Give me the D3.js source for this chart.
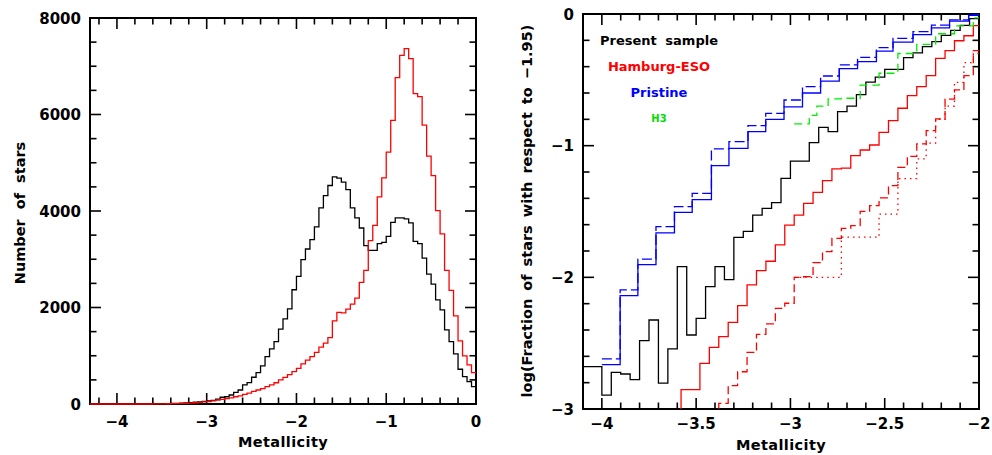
<!DOCTYPE html>
<html>
<head>
<meta charset="utf-8">
<script src="https://cdn.jsdelivr.net/npm/d3@7"></script>
<style>
	body { margin: 0; background: #fff; }
	svg { display: block; }
	text { font-family: "DejaVu Sans", sans-serif; font-weight: bold; fill: #000; }
</style>
</head>
<body>
<div id="chart"></div>
<script>
// ---- left panel: metallicity distributions, bins of 0.05 starting at -4.3
const histLo = -4.3;
const histStep = 0.05;
const presentCounts = [
	0, 0, 0, 0, 0, 0, 0, 0, 0, 0, 0, 0, 0, 0,
	3, 5, 6, 8, 10, 14, 18, 24, 30, 38, 46, 55,
	65, 75, 100, 140, 150, 187, 242, 290, 395, 443,
	554, 651, 789, 983, 1142, 1294, 1551, 1765, 1973, 2368,
	2644, 2991, 3212, 3406, 3670, 4064, 4320, 4528, 4708, 4680,
	4597, 4444, 4064, 3856, 3648, 3281, 3184, 3184, 3323, 3350,
	3475, 3766, 3856, 3856, 3835, 3752, 3371, 3323, 3025, 2693,
	2485, 2160, 1952, 1537, 1294, 1038, 720, 568, 464, 360
];
const comparisonCounts = [
	0, 0, 0, 0, 0, 0, 0, 0, 0, 0, 0, 0, 0, 0,
	2, 3, 4, 5, 7, 9, 12, 16, 20, 26, 33, 42,
	50, 65, 80, 95, 110, 125, 150, 170, 200, 225,
	260, 290, 320, 360, 395, 440, 500, 550, 610, 670,
	740, 830, 910, 980, 1070, 1180, 1260, 1377, 1724, 1897,
	1890, 1966, 2070, 2195, 2520, 2769, 3385, 3704, 4293, 4687,
	5220, 5877, 6764, 7227, 7366, 7159, 6432, 6370, 5780, 5136,
	4735, 4008, 3524, 2769, 2353, 1828, 1308, 997, 810, 651
];
const leftXTicks = [-4, -3, -2, -1, 0];
const leftYTicks = [0, 2000, 4000, 6000, 8000];

// ---- right panel: log cumulative fraction relative to [Fe/H] = -1.95
const presentLo = -4.1;
const presentFrac = [
	-2.678, -2.678, -2.894, -2.722, -2.734, -2.777, -2.481, -2.324, -2.803, -2.544,
	-1.919, -2.438, -2.311, -2.071, -1.919, -2.018, -1.696, -1.651, -1.527, -1.476,
	-1.433, -1.248, -1.118, -1.118, -0.977, -0.861, -0.894, -0.742, -0.700, -0.612,
	-0.518, -0.479, -0.420, -0.420, -0.332, -0.296, -0.248, -0.210, -0.162, -0.124,
	-0.086, -0.035
];
const hesLo = -3.63;
const hesFrac = [
	-3.2, -2.853, -2.853, -2.653, -2.532, -2.451, -2.342, -2.215, -2.058, -1.949,
	-1.878, -1.754, -1.603, -1.527, -1.438, -1.354, -1.266, -1.177, -1.170, -1.076,
	-1.033, -0.995, -0.899, -0.810, -0.716, -0.620, -0.552, -0.468, -0.337, -0.278,
	-0.203, -0.165, -0.089
];
const hesDashLo = -3.43;
const hesDashFrac = [
	-3.2, -2.957, -2.823, -2.717, -2.570, -2.433, -2.354, -2.235, -2.197, -2.000,
	-1.995, -1.889, -1.805, -1.704, -1.628, -1.608, -1.499, -1.456, -1.397, -1.304,
	-1.165, -1.081, -0.987, -0.886, -0.797, -0.646, -0.577, -0.468, -0.278
];
const hesDotEdges = [-2.98, -2.73, -2.53, -2.43, -2.33, -2.28, -2.23, -2.18, -2.13, -2.08, -2.03, -1.98];
const hesDotFrac = [-2.0, -1.695, -1.52, -1.25, -1.10, -0.98, -0.80, -0.70, -0.52, -0.37, -0.30];
const pristineEdges = [
	-4.0, -3.903, -3.809, -3.713, -3.615, -3.521, -3.419, -3.326, -3.225, -3.131,
	-3.034, -2.936, -2.840, -2.741, -2.644, -2.544, -2.456, -2.350, -2.252, -2.156,
	-2.055, -2.0
];
const pristineFrac = [
	-2.663, -2.139, -1.904, -1.663, -1.506, -1.410, -1.152, -1.020, -0.894, -0.800,
	-0.705, -0.600, -0.510, -0.415, -0.362, -0.282, -0.213, -0.156, -0.105, -0.054,
	-0.010
];
const pristineAltFrac = [
	-2.620, -2.096, -1.861, -1.615, -1.463, -1.362, -1.025, -0.970, -0.848, -0.754,
	-0.653, -0.552, -0.471, -0.387, -0.329, -0.256, -0.185, -0.134, -0.084, -0.045,
	-0.005
];
const h3Edges = [-2.98, -2.90, -2.86, -2.80, -2.73, -2.63, -2.53, -2.43, -2.33, -2.23, -2.13, -2.03, -2.0];
const h3Frac = [-0.835, -0.770, -0.700, -0.645, -0.640, -0.540, -0.450, -0.300, -0.230, -0.150, -0.090, -0.030];
const rightXTicks = [-4, -3.5, -3, -2.5, -2];
const rightYTicks = [0, -1, -2, -3];

const legend = [
	{label: 'Present sample', color: '#000000', size: 13, y: 45},
	{label: 'Hamburg-ESO', color: '#ff0000', size: 13, y: 71},
	{label: 'Pristine', color: '#0000ff', size: 13, y: 97},
	{label: 'H3', color: '#00dd00', size: 10, y: 122}
];

const width = 992, height = 455;
const minus = s => String(s).replace('-', '\u2212');

const svg = d3.select('#chart')
	.append('svg')
	.attr('width', width)
	.attr('height', height);

function regular(lo, step, values) {
	const pts = values.map((v, i) => [lo + i * step, v]);
	pts.push([lo + values.length * step, values[values.length - 1]]);
	return pts;
}

function edged(edges, values) {
	const pts = values.map((v, i) => [edges[i], v]);
	pts.push([edges[values.length], values[values.length - 1]]);
	return pts;
}

function frame(g, x, y, opts) {
	const [x0, x1] = x.range();
	const [y1, y0] = y.range();
	const major = 11, minor = 6.5;

	opts.xMinor.forEach(v => {
		const len = opts.xTicks.some(t => Math.abs(t - v) < 1e-6) ? major : minor;
		g.append('line').attr('x1', x(v)).attr('x2', x(v)).attr('y1', y1).attr('y2', y1 - len);
		g.append('line').attr('x1', x(v)).attr('x2', x(v)).attr('y1', y0).attr('y2', y0 + len);
	});
	opts.yMinor.forEach(v => {
		const len = opts.yTicks.some(t => Math.abs(t - v) < 1e-6) ? major : minor;
		g.append('line').attr('x1', x0).attr('x2', x0 + len).attr('y1', y(v)).attr('y2', y(v));
		g.append('line').attr('x1', x1).attr('x2', x1 - len).attr('y1', y(v)).attr('y2', y(v));
	});
	g.selectAll('line').attr('stroke', '#000').attr('stroke-width', 1.6);

	g.append('rect')
		.attr('x', x0).attr('y', y0)
		.attr('width', x1 - x0).attr('height', y1 - y0)
		.attr('fill', 'none').attr('stroke', '#000').attr('stroke-width', 2);

	g.selectAll('text.xt')
		.data(opts.xTicks)
		.join('text')
		.attr('class', 'xt')
		.attr('x', d => x(d))
		.attr('y', y1 + opts.xLabelDy)
		.attr('text-anchor', 'middle')
		.style('font-size', '15px')
		.text(d => minus(d));

	g.selectAll('text.yt')
		.data(opts.yTicks)
		.join('text')
		.attr('class', 'yt')
		.attr('x', x0 - 9)
		.attr('y', d => y(d) + 5.5)
		.attr('text-anchor', 'end')
		.style('font-size', '15px')
		.text(d => minus(d));
}

function drawSteps(g, x, y, pts, color, dash) {
	const line = d3.line()
		.x(d => x(d[0]))
		.y(d => y(d[1]))
		.curve(d3.curveStepAfter);
	g.append('path')
		.attr('d', line(pts))
		.attr('fill', 'none')
		.attr('stroke', color)
		.attr('stroke-width', 1.3)
		.attr('stroke-dasharray', dash || null);
}

// ---------------- left panel
const xL = d3.scaleLinear().domain([-4.3, 0]).range([90, 476]);
const yL = d3.scaleLinear().domain([0, 8000]).range([404, 18]);

const gL = svg.append('g');
frame(gL, xL, yL, {
	xTicks: leftXTicks,
	xMinor: d3.range(-4.2, 0.001, 0.2).map(v => +v.toFixed(2)),
	yTicks: leftYTicks,
	yMinor: d3.range(0, 8001, 500),
	xLabelDy: 23
});
drawSteps(gL, xL, yL, regular(histLo, histStep, presentCounts), '#000');
drawSteps(gL, xL, yL, regular(histLo, histStep, comparisonCounts), '#ff0000');

gL.append('text')
	.attr('x', (90 + 476) / 2)
	.attr('y', 447)
	.attr('text-anchor', 'middle')
	.style('font-size', '14.5px')
	.style('letter-spacing', '0.4px')
	.text('Metallicity');

gL.append('text')
	.attr('transform', 'translate(25,213) rotate(-90)')
	.attr('text-anchor', 'middle')
	.style('font-size', '14.5px')
	.style('word-spacing', '5px')
	.text('Number of stars');

// ---------------- right panel
const xR = d3.scaleLinear().domain([-4.1, -2]).range([583, 979]);
const yR = d3.scaleLinear().domain([-3, 0]).range([409, 14]);

svg.append('clipPath')
	.attr('id', 'clipR')
	.append('rect')
	.attr('x', 583).attr('y', 14)
	.attr('width', 979 - 583).attr('height', 409 - 14);

const gR = svg.append('g');
frame(gR, xR, yR, {
	xTicks: rightXTicks,
	xMinor: d3.range(-4.0, -1.999, 0.1).map(v => +v.toFixed(2)),
	yTicks: rightYTicks,
	yMinor: d3.range(-3, 0.001, 0.2).map(v => +v.toFixed(2)),
	xLabelDy: 20
});

const curves = gR.append('g').attr('clip-path', 'url(#clipR)');
drawSteps(curves, xR, yR, regular(presentLo, 0.05, presentFrac), '#000');
drawSteps(curves, xR, yR, regular(hesLo, 0.05, hesFrac), '#ff0000');
drawSteps(curves, xR, yR, regular(hesDashLo, 0.05, hesDashFrac), '#ff0000', '8,4');
drawSteps(curves, xR, yR, edged(hesDotEdges, hesDotFrac), '#ff0000', '1.5,4');
drawSteps(curves, xR, yR, edged(h3Edges, h3Frac), '#00ee00', '8,5');
drawSteps(curves, xR, yR, edged(pristineEdges, pristineFrac), '#0000ff');
drawSteps(curves, xR, yR, edged(pristineEdges, pristineAltFrac), '#0000ff', '10,4');

gR.selectAll('text.legend')
	.data(legend)
	.join('text')
	.attr('class', 'legend')
	.attr('x', 659)
	.attr('y', d => d.y)
	.attr('text-anchor', 'middle')
	.style('font-size', d => `${d.size}px`)
	.style('word-spacing', '4px')
	.style('fill', d => d.color)
	.text(d => d.label);

gR.append('text')
	.attr('x', (583 + 979) / 2)
	.attr('y', 450)
	.attr('text-anchor', 'middle')
	.style('font-size', '14.5px')
	.style('letter-spacing', '0.4px')
	.text('Metallicity');

gR.append('text')
	.attr('transform', 'translate(532,211) rotate(-90)')
	.attr('text-anchor', 'middle')
	.style('font-size', '14.5px')
	.style('word-spacing', '3px')
	.text('log(Fraction of stars with respect to \u22121.95)');
</script>
</body>
</html>
